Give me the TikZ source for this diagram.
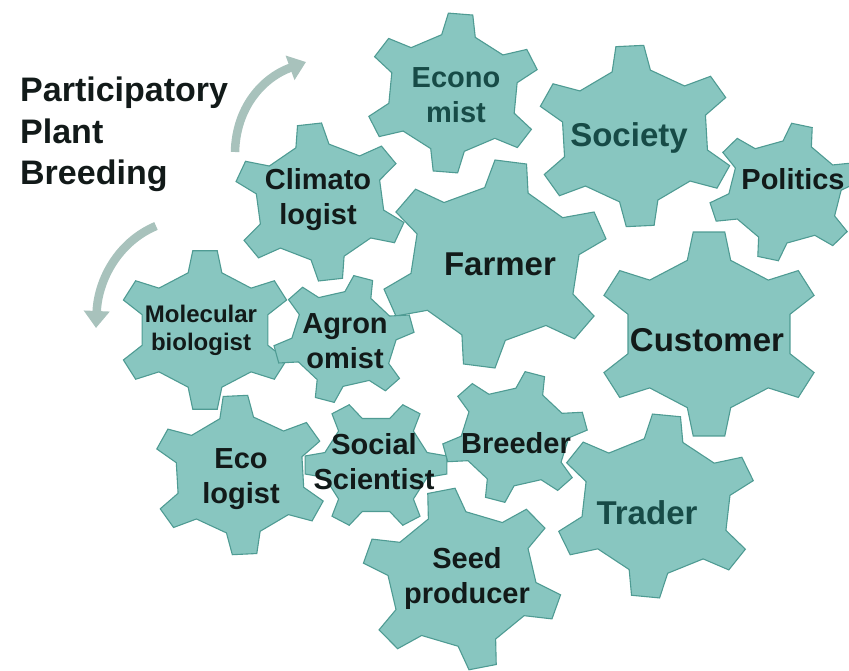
\documentclass[tikz,border=0pt]{standalone}
\usepackage{fontspec}
\setmainfont{Liberation Sans}
\usepackage{tikz}
\usetikzlibrary{arrows.meta}
\usepackage{xcolor}
\definecolor{gearfill}{HTML}{88C6C0}
\definecolor{gearline}{HTML}{4F9B93}
\definecolor{arrowgrey}{HTML}{A8C2BC}
\definecolor{labeldark}{HTML}{121A19}
\definecolor{labelteal}{HTML}{174B47}

% gear: centre x, centre y, radius, angle of first tooth
\newcommand{\gear}[4]{%
  \begin{scope}[shift={(#1,#2)},xscale=1.1,yscale=-1]
    \draw[gearbody] ({#4-15}:{0.74*#3})
      \foreach \k in {0,...,5} {
        -- ({#4+60*\k-15}:{0.74*#3}) -- ({#4+60*\k-8}:#3)
        -- ({#4+60*\k+8}:#3) -- ({#4+60*\k+15}:{0.74*#3})
      } -- cycle;
  \end{scope}}

\tikzset{
  gearbody/.style={fill=gearfill,draw=gearline,line width=1.1pt,line join=miter},
  gearlabel/.style={font=\bfseries\fontsize{29}{35}\selectfont,text=labeldark,
    align=center,inner sep=0pt,anchor=north},
  biglabel/.style={gearlabel,font=\bfseries\fontsize{33}{38}\selectfont},
  smalllabel/.style={gearlabel,font=\bfseries\fontsize{24}{28}\selectfont},
  cyclearrow/.style={draw=arrowgrey,line width=8.5pt,-{Triangle[width=25pt,length=17pt]}}
}

\begin{document}
\begin{tikzpicture}[x=1pt,y=-1pt]
        \useasboundingbox (0,0) rectangle (849,671);
        \node[anchor=north west,align=left,inner sep=0pt,text=labeldark,
          font=\bfseries\fontsize{34}{41.5}\selectfont] (title) at (20,77)
          {Participatory\\Plant\\Breeding};
        \coordinate (upTail) at (235,152);
        \coordinate (upTip) at (306,62);
        \coordinate (downTail) at (156,226);
        \coordinate (downTip) at (96,328);
        \draw[cyclearrow] (upTail) .. controls (236,108) and (262,78) .. (upTip); % upper arrow
        \draw[cyclearrow] (downTail) .. controls (118,242) and (98,280) .. (downTip); % lower arrow
        \gear{453}{93}{80}{85}   % economist
        \gear{635}{136}{91}{93}  % society
        \gear{785}{192}{69}{77}  % politics
        \gear{320}{202}{79}{97}  % climatologist
        \gear{495}{264}{104}{82} % farmer
        \gear{709}{334}{103}{90} % customer
        \gear{205}{330}{80}{90}  % molecular biologist
        \gear{344}{339}{64}{74}  % agronomist
        \gear{240}{475}{80}{93}  % ecologist
        \gear{376}{465}{65}{0}   % social scientist
        \gear{515}{437}{66}{74}  % breeder
        \gear{462}{579}{91}{102} % seed producer
        \gear{656}{506}{92}{84}  % trader
        \node[gearlabel,text=labelteal] (economist) at (456,67) {Econo\\mist};
        \node[biglabel,text=labelteal] (society) at (629,122) {Society};
        \node[gearlabel] (politics) at (793,168) {Politics};
        \node[gearlabel] (climatologist) at (318,168) {Climato\\logist};
        \node[biglabel] (farmer) at (500,253) {Farmer};
        \node[biglabel] (customer) at (707,328) {Customer};
        \node[smalllabel] (molecular) at (201,305) {Molecular\\biologist};
        \node[gearlabel] (agronomist) at (345,313) {Agron\\omist};
        \node[gearlabel] (ecologist) at (241,448) {Eco\\logist};
        \node[gearlabel] (social) at (374,433) {Social\\Scientist};
        \node[gearlabel] (breeder) at (516,432) {Breeder};
        \node[gearlabel] (seed) at (467,547) {Seed\\producer};
        \node[biglabel,text=labelteal] (trader) at (647,500) {Trader};
\end{tikzpicture}
\end{document}
